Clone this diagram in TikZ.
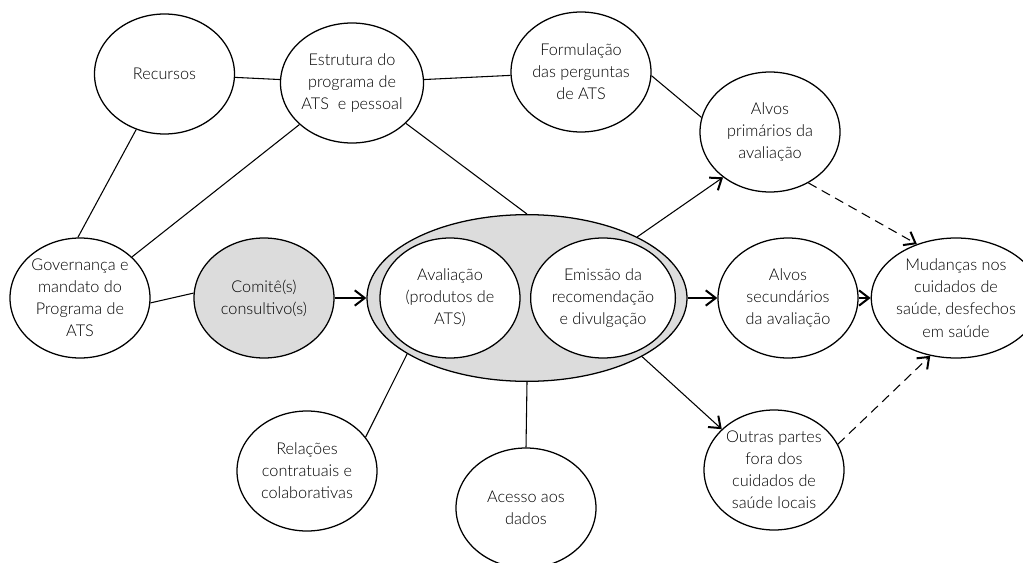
\documentclass[tikz,border=0pt]{standalone}
\usepackage{fontspec}
\setmainfont{Lato}[UprightFont=* Light]
\usetikzlibrary{shapes.geometric,arrows.meta}
\definecolor{fillgray}{RGB}{220,220,220}
\begin{document}
\begin{tikzpicture}[x=0.75pt,y=-0.75pt,
  oval/.style={ellipse,draw,line width=0.95pt,inner sep=0pt,minimum width=105pt,minimum height=90pt,align=center,font=\fontsize{12.2}{16.6}\selectfont,fill=white},
  link/.style={line width=0.8pt},
  arr/.style={line width=0.8pt,-{Straight Barb[length=7.5pt,width=11.5pt,line width=1.5pt]}},
  darr/.style={arr,dash pattern=on 7pt off 4.5pt}]
\useasboundingbox (0,0) rectangle (1023,563);
\node[oval] (rec) at (164.5,74) {Recursos};
\node[oval] (est) at (352,83) {Estrutura do\\programa de\\ATS\ \ e pessoal};
\node[oval] (form) at (581,72) {Formulação\\das perguntas\\de ATS};
\node[oval] (ap) at (770,132) {Alvos\\primários da\\avaliação};
\node[oval] (gov) at (80,298) {Governança e\\mandato do\\Programa de\\ATS};
\node[oval,fill=fillgray] (com) at (264,298) {Comitê(s)\\consultivo(s)};
\node[ellipse,draw,line width=0.95pt,fill=fillgray,minimum width=240pt,minimum height=125pt,inner sep=0pt] (big) at (527,298) {};
\node[oval] (av) at (450,298) {Avaliação\\(produtos de\\ATS)};
\node[oval] (em) at (603,298) {Emissão da\\recomendação\\e divulgação};
\node[oval] (as) at (788,298) {Alvos\\secundários\\da avaliação};
\node[oval,minimum width=101pt] (mud) at (956,298) {Mudanças nos\\cuidados de\\saúde, desfechos\\em saúde};
\node[oval] (out) at (774,470) {\fontsize{12.2}{14.6}\selectfont Outras partes\\\fontsize{12.2}{14.6}\selectfont fora dos\\\fontsize{12.2}{14.6}\selectfont cuidados de\\\fontsize{12.2}{14.6}\selectfont saúde locais};
\node[oval] (rel) at (307,471) {Relações\\contratuais e\\colaborativas};
\node[oval] (acc) at (526,508) {Acesso aos\\dados};

\draw[link] (rec) -- (est);
\draw[link] (rec.243) -- (gov.92);
\draw[link] (est) -- (form);
\draw[link] (est) -- (gov);
\draw[link] (est) -- (big.north);
\draw[link] (form.-3) -- (ap.168);
\draw[link] (gov.-4) -- (com.176);
\draw[link] (big.205) -- (rel.30);
\draw[link] (big.south) -- (acc.north);
\draw[arr] (com.east) -- (big.west);
\draw[arr] (big.29) -- (ap.224);
\draw[arr] (big.east) -- (as.west);
\draw[arr] (as.east) -- (mud.west);
\draw[arr] (big.-27) -- (out.142);
\draw[darr] (ap.-53) -- (mud.126);
\draw[darr] (out.22) -- (mud.246);
\end{tikzpicture}
\end{document}
